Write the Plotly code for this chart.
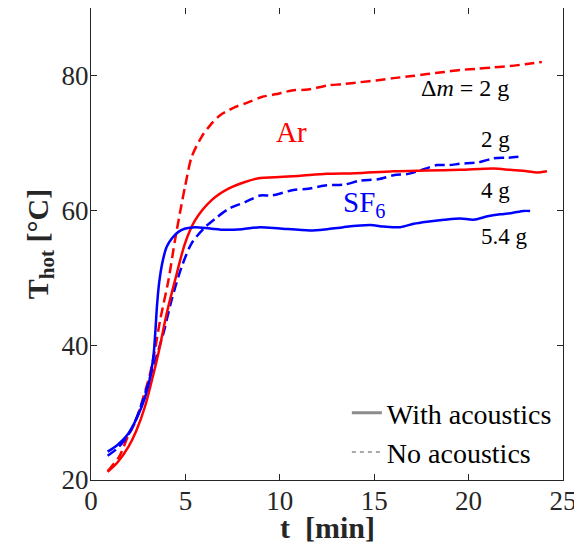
import plotly.graph_objects as go

# Ar, no acoustics (red dashed)
ar_noac_t = [0.88, 1.5, 1.96, 2.33, 2.8, 3.13, 3.4, 3.66, 4.10, 4.45, 4.77, 4.98, 5.33, 5.86, 6.31, 6.84,
             7.63, 8.32, 9.04, 9.75, 10.72, 11.5, 12.49, 13.3, 14.26, 15.2, 16.02, 17.0, 17.79, 18.7,
             19.55, 20.5, 21.32, 22.2, 23.09, 23.88]
ar_noac_T = [21.3, 23.5, 26.5, 28.5, 32.5, 35.8, 39.5, 43.7, 49.6, 55.6, 60.5, 63.5, 67.9, 70.9, 72.6, 74.1,
             75.3, 76.0, 76.8, 77.2, 77.8, 77.9, 78.5, 78.7, 79.0, 79.3, 79.6, 79.9, 80.2, 80.5,
             80.8, 81.0, 81.2, 81.4, 81.7, 82.0]

# Ar, with acoustics (red solid)
ar_ac_t = [0.88, 1.4, 1.98, 2.4, 2.86, 3.2, 3.57, 4.01, 4.45, 4.98, 5.51, 6.39, 7.28, 8.16, 8.96, 9.75,
           11.0, 12.49, 14.0, 16.02, 17.79, 19.55, 21.32, 22.2, 23.09, 23.6, 24.15]
ar_ac_T = [21.2, 22.6, 24.9, 27.3, 30.9, 34.5, 38.8, 44.7, 49.6, 55.1, 58.5, 61.5, 63.2, 64.2, 64.8, 64.9,
           65.1, 65.4, 65.5, 65.8, 65.9, 66.0, 66.2, 66.0, 65.8, 65.6, 65.8]

# SF6, with acoustics (blue solid)
sf6_ac_t = [0.88, 1.4, 1.98, 2.69, 3.0, 3.22, 3.33, 3.42, 3.5, 3.62, 3.8, 4.01, 4.3, 4.63, 5.0, 5.51, 6.3,
            7.10, 8.0, 8.96, 10.0, 11.6, 12.5, 13.37, 14.79, 15.5, 16.38, 17.1, 17.79, 18.7, 19.55, 20.26,
            21.0, 21.67, 22.3, 22.91, 23.26]
sf6_ac_T = [24.2, 25.2, 26.9, 30.9, 33.6, 36.6, 39.0, 42.5, 46.0, 49.5, 52.5, 54.6, 55.9, 56.8, 57.3, 57.5, 57.3,
            57.1, 57.2, 57.5, 57.3, 57.0, 57.2, 57.5, 57.8, 57.6, 57.5, 58.0, 58.3, 58.6, 58.8, 58.6,
            59.1, 59.4, 59.6, 59.9, 59.9]

# SF6, no acoustics (blue dashed)
sf6_noac_t = [0.88, 1.4, 2.0, 2.51, 3.30, 3.83, 4.27, 4.80, 5.33, 6.04, 6.6, 7.28, 8.16, 8.96, 9.57, 10.72,
              11.5, 12.49, 13.4, 14.26, 15.2, 16.02, 16.8, 17.43, 18.32, 19.0, 19.55, 20.5, 21.32, 22.1,
              22.91]
sf6_noac_T = [23.6, 24.7, 26.8, 29.9, 36.8, 41.7, 46.7, 51.6, 55.1, 57.5, 58.8, 60.2, 61.2, 62.2, 62.2, 63.0,
              63.2, 63.7, 63.8, 64.4, 64.6, 65.2, 65.4, 65.9, 66.7, 66.7, 66.9, 67.1, 67.7, 67.8,
              68.0]

x_ticks = [0, 5, 10, 15, 20, 25]
y_ticks = [20, 40, 60, 80]

RED = "#ff0000"
BLUE = "#0000ff"
DARK = "#262626"
FONT = "Liberation Serif"
DASH = "10px,5px"

fig = go.Figure()
fig.add_trace(go.Scatter(x=ar_noac_t, y=ar_noac_T, mode="lines", line_shape="spline",
                         line=dict(color=RED, width=2.5, dash=DASH, smoothing=0.8), showlegend=False))
fig.add_trace(go.Scatter(x=sf6_noac_t, y=sf6_noac_T, mode="lines", line_shape="spline",
                         line=dict(color=BLUE, width=2.5, dash=DASH, smoothing=0.8), showlegend=False))
fig.add_trace(go.Scatter(x=ar_ac_t, y=ar_ac_T, mode="lines", line_shape="spline",
                         line=dict(color=RED, width=2.5, smoothing=0.8), showlegend=False))
fig.add_trace(go.Scatter(x=sf6_ac_t, y=sf6_ac_T, mode="lines", line_shape="spline",
                         line=dict(color=BLUE, width=2.5, smoothing=0.8), showlegend=False))
# legend entries
fig.add_trace(go.Scatter(x=[None], y=[None], mode="lines", name="With acoustics",
                         line=dict(color="#8c8c8c", width=3)))
fig.add_trace(go.Scatter(x=[None], y=[None], mode="lines", name="No acoustics",
                         line=dict(color="#8c8c8c", width=1.5, dash="4px,4px")))

annots = [
    dict(x=10.62, y=71.6, text="Ar", font=dict(color=RED, size=29, family=FONT), xanchor="center"),
    dict(x=14.45, y=61.0, text="SF<sub>6</sub>", font=dict(color=BLUE, size=29, family=FONT), xanchor="center"),
    dict(x=22.25, y=78.2, text="Δ<i>m</i> = 2 g", font=dict(color="black", size=24, family=FONT), xanchor="right"),
    dict(x=20.55, y=70.5, text="2 g", font=dict(color="black", size=23, family=FONT), xanchor="left"),
    dict(x=20.55, y=62.9, text="4 g", font=dict(color="black", size=23, family=FONT), xanchor="left"),
    dict(x=20.55, y=56.1, text="5.4 g", font=dict(color="black", size=23, family=FONT), xanchor="left"),
]
for a in annots:
    fig.add_annotation(xref="x", yref="y", showarrow=False, yanchor="middle", **a)

# x-axis title placed as paper annotation for precise position
fig.add_annotation(xref="paper", yref="paper", x=0.5, y=-0.1, xanchor="center", yanchor="middle",
                   showarrow=False, text="<b>t  [min]</b>", font=dict(family=FONT, size=30, color=DARK))

axis_common = dict(showgrid=False, zeroline=False, showline=True, linecolor=DARK, linewidth=1,
                   mirror="ticks", ticks="inside", ticklen=6, tickcolor=DARK, tickwidth=1,
                   ticklabeloverflow="allow",
                   tickfont=dict(family=FONT, size=27, color=DARK))

fig.update_xaxes(range=[0, 25], tickvals=x_ticks, ticktext=[str(v) for v in x_ticks],
                 ticklabelstandoff=-3, **axis_common)
fig.update_yaxes(range=[20, 90], tickvals=y_ticks, ticktext=[str(v) for v in y_ticks],
                 ticklabelstandoff=-4,
                 title=dict(text="<b>T<sub>hot</sub> [°C]</b>", font=dict(family=FONT, size=30, color=DARK), standoff=4),
                 **axis_common)

# page body has an 8px margin, so the figure is 8px smaller and offset accordingly
fig.update_layout(
    width=574, height=548,
    margin=dict(l=83, r=19, t=0, b=76, autoexpand=False),
    plot_bgcolor="white", paper_bgcolor="white",
    legend=dict(x=0.987, xanchor="right", y=0.195, yanchor="top", bgcolor="rgba(0,0,0,0)",
                font=dict(family=FONT, size=28, color="black"), tracegroupgap=0, itemwidth=30),
)

fig.write_html("out.html")
